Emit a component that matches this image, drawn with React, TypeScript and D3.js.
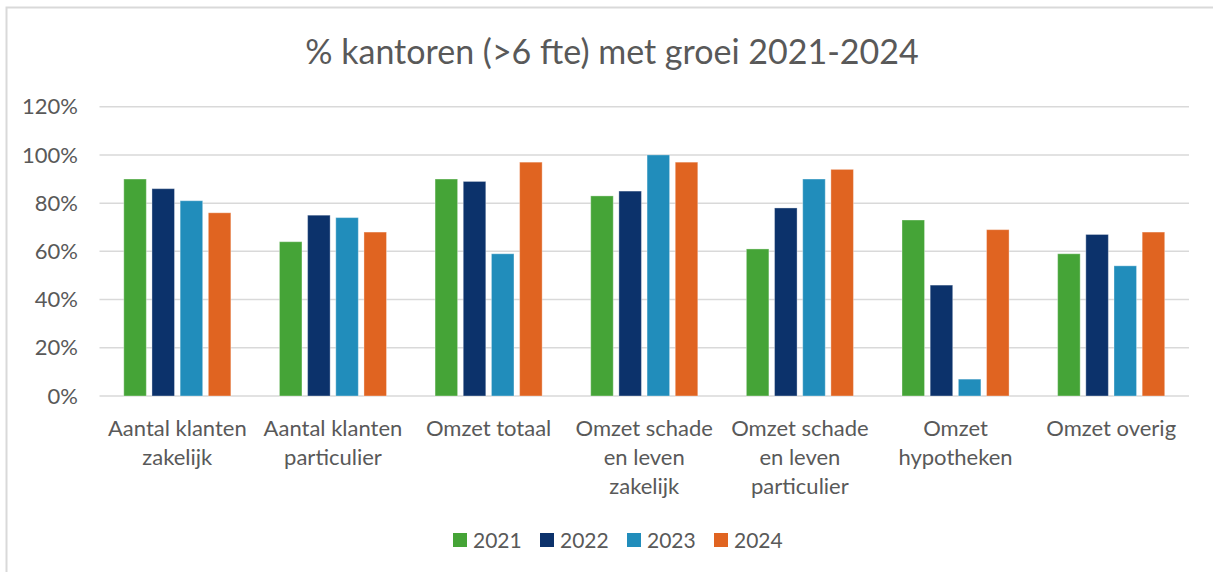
import React from "react";
import * as d3 from "d3";

const categories: string[][] = [
  ["Aantal klanten", "zakelijk"],
  ["Aantal klanten", "particulier"],
  ["Omzet totaal"],
  ["Omzet schade", "en leven", "zakelijk"],
  ["Omzet schade", "en leven", "particulier"],
  ["Omzet", "hypotheken"],
  ["Omzet overig"],
];
const seriesNames = ["2021", "2022", "2023", "2024"];
const values2021 = [90, 64, 90, 83, 61, 73, 59];
const values2022 = [86, 75, 89, 85, 78, 46, 67];
const values2023 = [81, 74, 59, 100, 90, 7, 54];
const values2024 = [76, 68, 97, 97, 94, 69, 68];
const seriesValues = [values2021, values2022, values2023, values2024];
const seriesColors = ["#45A437", "#0C326B", "#218DBB", "#E06421"];
const yTicks = [0, 20, 40, 60, 80, 100, 120];
const title = "% kantoren (>6 fte) met groei 2021-2024";

const W = 1213;
const H = 572;
const FONT = "Lato, 'Open Sans', sans-serif";
const TEXT = "#595959";

export default function App() {
  const x0 = 99.5;
  const x1 = 1189;
  const yTop = 106.7;
  const yBottom = 396;
  const x = d3
    .scaleBand<number>()
    .domain(categories.map((_, i) => i))
    .range([x0, x1]);
  const y = d3.scaleLinear().domain([0, 120]).range([yBottom, yTop]);
  const groupW = x.bandwidth() * 0.688;
  const inner = d3
    .scaleBand<number>()
    .domain(seriesNames.map((_, i) => i))
    .range([0, groupW])
    .paddingInner(0.2);
  const groupOffset = (x.bandwidth() - groupW) / 2;

  const legendX = [453, 540, 627, 714];

  return (
    <svg
      width={W}
      height={H}
      style={{ position: "absolute", left: 0, top: 0, display: "block" }}
      fontFamily={FONT}
    >
      <rect x={0} y={0} width={W} height={H} fill="#fff" />
      <rect
        x={6.5}
        y={7.5}
        width={W + 20}
        height={H + 20}
        fill="#fff"
        stroke="#D9D9D9"
        strokeWidth={2}
      />
      <text
        x={612}
        y={64}
        textAnchor="middle"
        fontSize={34}
        fill={TEXT}
      >
        {title}
      </text>
      {yTicks.map((t) => (
        <g key={t}>
          <line
            x1={x0}
            x2={x1}
            y1={y(t)}
            y2={y(t)}
            stroke="#D9D9D9"
            strokeWidth={1.5}
          />
          <text
            x={78}
            y={y(t)}
            dy="0.35em"
            textAnchor="end"
            fontSize={22}
            fill={TEXT}
          >
            {t}%
          </text>
        </g>
      ))}
      {seriesValues.map((vals, si) =>
        vals.map((v, ci) => (
          <rect
            key={`${si}-${ci}`}
            x={(x(ci) ?? 0) + groupOffset + (inner(si) ?? 0)}
            y={y(v)}
            width={inner.bandwidth()}
            height={yBottom - y(v)}
            fill={seriesColors[si]}
            stroke="#ffffff"
            strokeOpacity={0.35}
            strokeWidth={1}
          />
        ))
      )}
      {categories.map((lines, ci) => (
        <text
          key={ci}
          textAnchor="middle"
          fontSize={22}
          fill={TEXT}
        >
          {lines.map((l, li) => (
            <tspan
              key={li}
              x={(x(ci) ?? 0) + x.bandwidth() / 2}
              y={436 + li * 29}
            >
              {l}
            </tspan>
          ))}
        </text>
      ))}
      {seriesNames.map((s, si) => (
        <g key={s}>
          <rect
            x={legendX[si]}
            y={533}
            width={14}
            height={14}
            fill={seriesColors[si]}
          />
          <text x={legendX[si] + 20} y={548} fontSize={21} fill={TEXT}>
            {s}
          </text>
        </g>
      ))}
    </svg>
  );
}
